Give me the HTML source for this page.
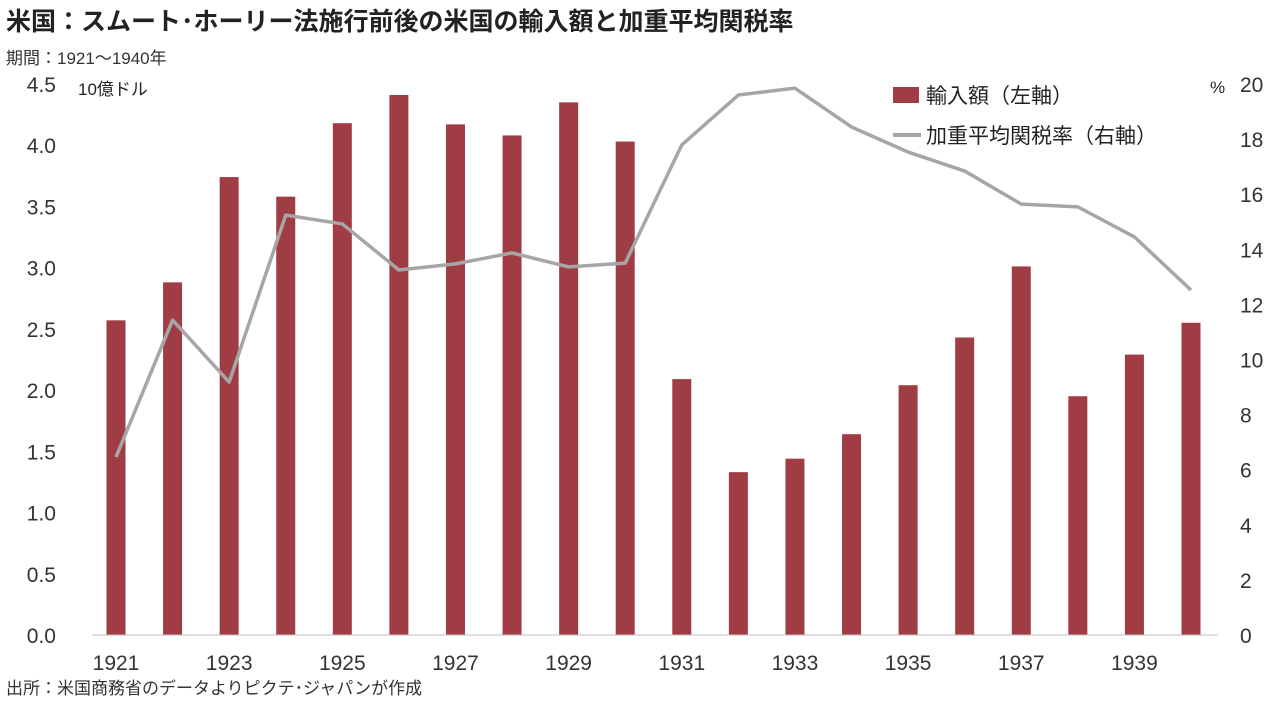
<!DOCTYPE html>
<html><head><meta charset="utf-8">
<style>
body{margin:0;background:#fff;width:1278px;height:702px;overflow:hidden;font-family:"Liberation Sans","Noto Sans CJK JP",sans-serif;}
svg text{font-family:"Liberation Sans","Noto Sans CJK JP",sans-serif;}
</style></head><body>
<svg id="c" width="1278" height="702" xmlns="http://www.w3.org/2000/svg">
<text x="6" y="30" font-size="25" font-weight="bold" fill="#222">米国：スムート･ホーリー法施行前後の米国の輸入額と加重平均関税率</text>
<text x="6" y="64" font-size="17" fill="#333">期間：1921～1940年</text>
<text x="78" y="95" font-size="17" fill="#222">10億ドル</text>
<text x="1210" y="93" font-size="17" fill="#222">%</text>
<text x="6" y="694" font-size="17" fill="#333">出所：米国商務省のデータよりピクテ･ジャパンが作成</text>
<g id="plot"></g>
<g>
<rect x="893" y="87" width="26" height="16" fill="#a03c44"/>
<text x="926" y="103" font-size="21" fill="#222">輸入額（左軸）</text>
<line x1="893" y1="135" x2="921" y2="135" stroke="#a6a6a6" stroke-width="4"/>
<text x="926" y="143" font-size="21" fill="#222">加重平均関税率（右軸）</text>
</g>
</svg>
<script>
const years=[1921,1922,1923,1924,1925,1926,1927,1928,1929,1930,1931,1932,1933,1934,1935,1936,1937,1938,1939,1940];
const imports=[2.57,2.88,3.74,3.58,4.18,4.41,4.17,4.08,4.35,4.03,2.09,1.33,1.44,1.64,2.04,2.43,3.01,1.95,2.29,2.55];
const tariff=[6.46,11.43,9.18,15.24,14.92,13.25,13.47,13.87,13.36,13.5,17.79,19.6,19.85,18.44,17.53,16.84,15.64,15.54,14.45,12.52];
const leftTicks=["0.0","0.5","1.0","1.5","2.0","2.5","3.0","3.5","4.0","4.5"];
const rightTicks=[0,2,4,6,8,10,12,14,16,18,20];
const ns="http://www.w3.org/2000/svg";
const g=document.getElementById('plot');
const y0=635,yTop=84;
const yL=v=>y0-(v/4.5)*(y0-yTop);
const yR=v=>y0-(v/20)*(y0-yTop);
const x=i=>116+i*(1191-116)/(years.length-1);
function mk(t,a){const e=document.createElementNS(ns,t);for(const k in a)e.setAttribute(k,a[k]);g.appendChild(e);return e;}
leftTicks.forEach((t,i)=>{const e=mk('text',{x:56,y:yL(i*0.5)+8,'font-size':21,fill:'#333','text-anchor':'end'});e.textContent=t;

});
rightTicks.forEach(t=>{const e=mk('text',{x:1240,y:yR(t)+8,'font-size':21,fill:'#333'});e.textContent=t;

});
imports.forEach((v,i)=>{const r=mk('rect',{x:x(i)-9.5,y:yL(v),width:19,height:y0-yL(v),fill:'#a03c44'});

});
const ax=mk('line',{x1:92,y1:y0,x2:1218,y2:y0,stroke:'#bfbfbf','stroke-width':1});


years.forEach((yr,i)=>{if(i%2==0){const e=mk('text',{x:x(i),y:670,'font-size':21,fill:'#333','text-anchor':'middle'});e.textContent=yr;

}});
const p=mk('polyline',{points:tariff.map((v,i)=>x(i)+','+yR(v)).join(' '),fill:'none',stroke:'#a6a6a6','stroke-width':3.5,'stroke-linejoin':'round'});


</script>
</body></html>
